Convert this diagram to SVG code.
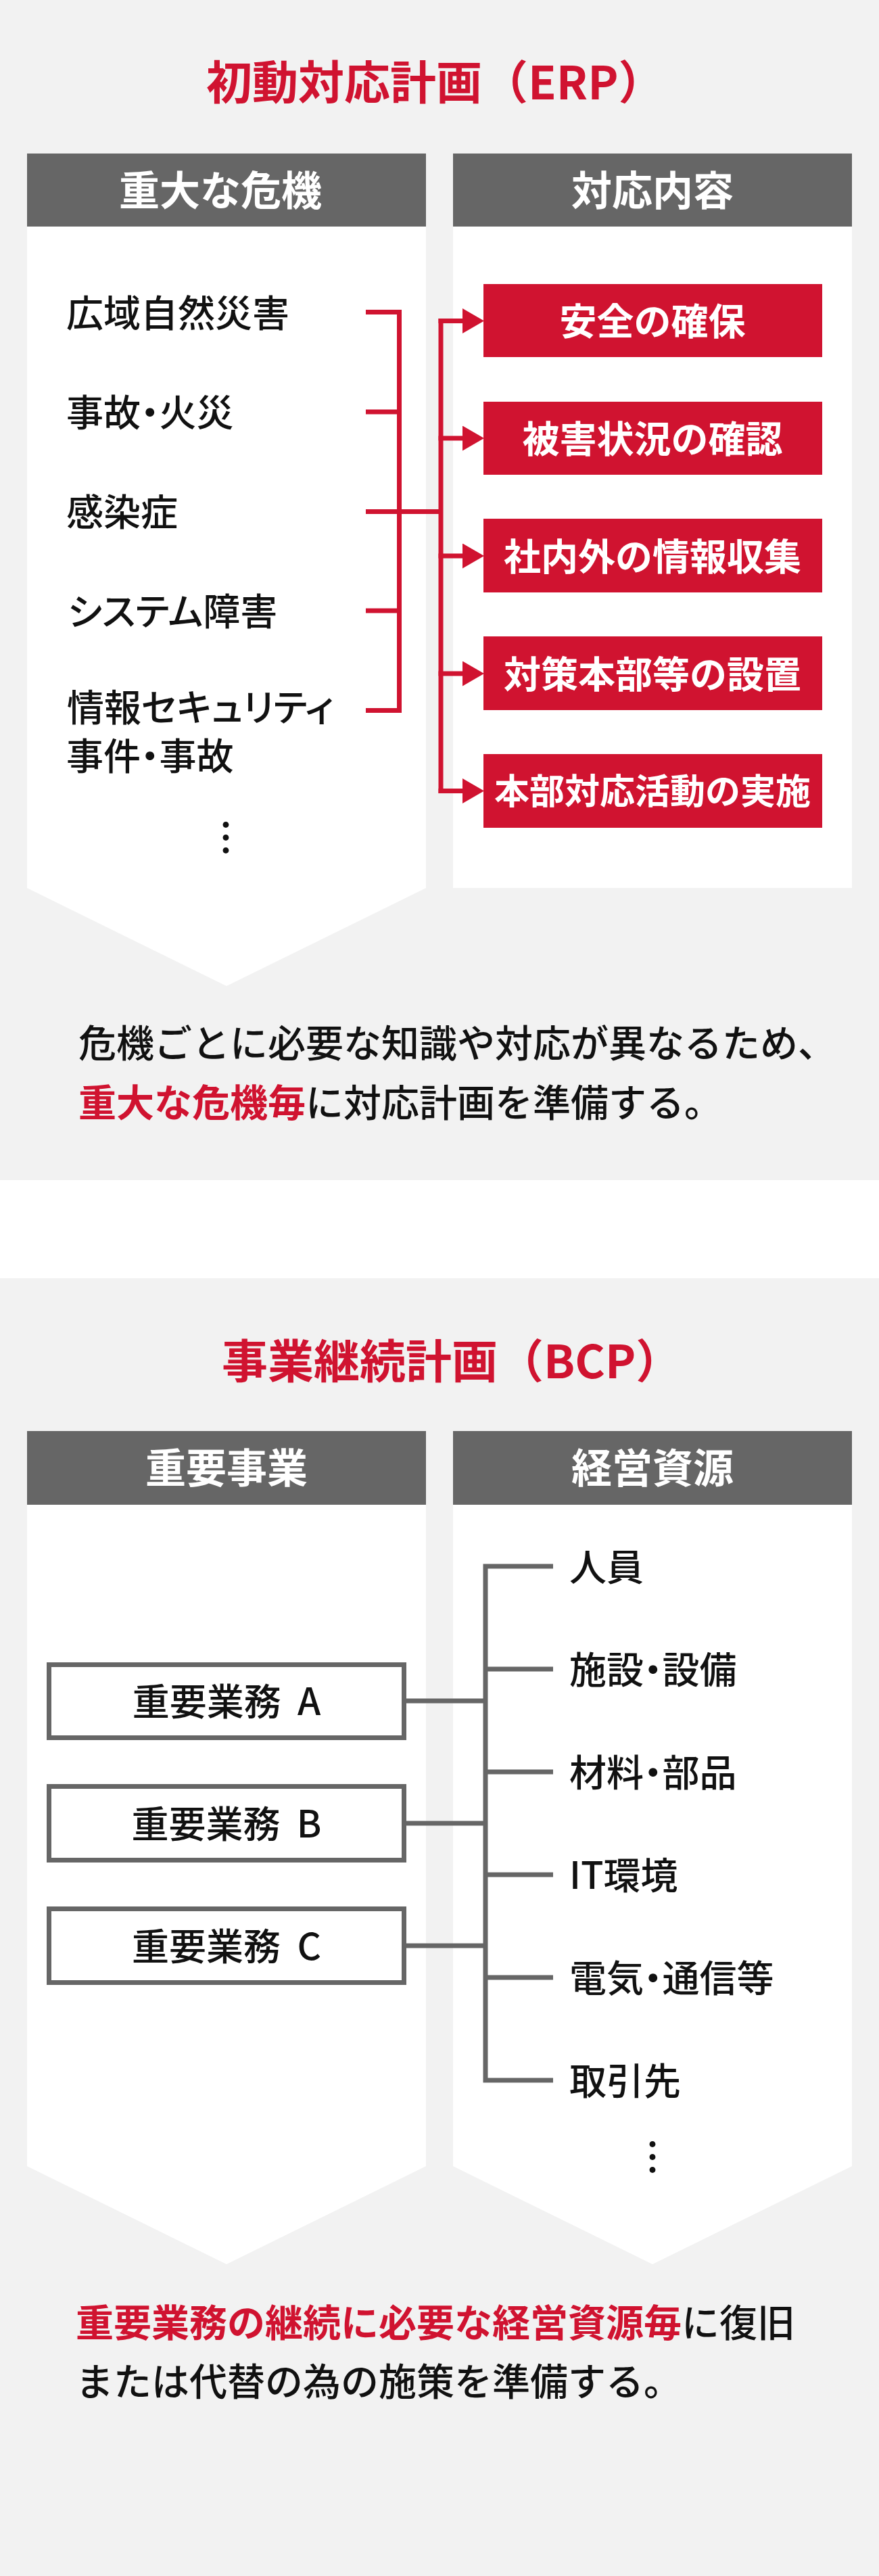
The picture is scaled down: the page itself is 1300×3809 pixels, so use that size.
<svg xmlns="http://www.w3.org/2000/svg" width="1300" height="3809" viewBox="0 0 1300 3809">
<defs>
<style>
.bg{fill:#f2f2f2}
.white{fill:#ffffff}
.ttl{font-family:"Noto Sans CJK JP","Noto Sans",sans-serif;font-weight:700;font-size:68px;fill:#d01330}
.hdr{fill:#666666}
.hdrt{font-family:"Noto Sans CJK JP",sans-serif;font-weight:700;font-size:60px;fill:#ffffff;text-anchor:middle}
.panel{fill:#ffffff}
.t{font-family:"Noto Sans CJK JP",sans-serif;font-weight:500;font-size:55px;fill:#111111;font-feature-settings:"palt" 1}
.cap{font-family:"Noto Sans CJK JP",sans-serif;font-weight:500;font-size:56px;fill:#111111}
.em{font-weight:700;fill:#d01330}
.rbox{fill:#d01330}
.rt{font-family:"Noto Sans CJK JP",sans-serif;font-weight:700;font-size:55px;fill:#ffffff;text-anchor:middle}
.rl{stroke:#d01330;stroke-width:7;fill:none;stroke-linejoin:miter}
.gl{stroke:#666666;stroke-width:7;fill:none;stroke-linejoin:miter}
.gbox{fill:#ffffff;stroke:#666666;stroke-width:7}
.bt{font-family:"Noto Sans CJK JP",sans-serif;font-weight:500;font-size:55px;fill:#111111;text-anchor:middle;word-spacing:12px}
.dots{font-family:"Noto Sans CJK JP",sans-serif;font-weight:700;font-size:55px;fill:#111111;text-anchor:middle}
</style>
<marker id="arr" markerUnits="userSpaceOnUse" viewBox="0 0 32 37" markerWidth="32" markerHeight="37" refX="0" refY="18.5" orient="auto">
<path d="M0,0 L32,18.5 L0,37 Z" fill="#d01330"/>
</marker>
</defs>

<rect class="bg" x="0" y="0" width="1300" height="3809"/>
<rect class="white" x="0" y="1745" width="1300" height="145"/>

<!-- ERP section -->
<text id="erp-title" class="ttl" x="305" y="147">初動対応計画（ERP）</text>

<g id="erp-left-col">
<path class="panel" d="M40,335 H630 V1313 L335,1458 L40,1313 Z"/>
<rect class="hdr" x="40" y="227" width="590" height="108"/>
<text class="hdrt" x="326" y="304">重大な危機</text>
</g>
<g id="erp-right-col">
<rect class="panel" x="670" y="335" width="590" height="978"/>
<rect class="hdr" x="670" y="227" width="590" height="108"/>
<text class="hdrt" x="965" y="304">対応内容</text>
</g>

<g id="crisis-1"><text class="t" x="98" y="483">広域自然災害</text></g>
<g id="crisis-2"><text class="t" x="98" y="630">事故・火災</text></g>
<g id="crisis-3"><text class="t" x="98" y="777">感染症</text></g>
<g id="crisis-4"><text class="t" x="100" y="924">システム障害</text></g>
<g id="crisis-5">
<text class="t" x="99" y="1066">情報セキュリティ</text>
<text class="t" x="98" y="1138">事件・事故</text>
</g>
<g id="crisis-more"><text class="dots" x="334" y="1259">︙</text></g>

<g id="resp-1"><rect class="rbox" x="715" y="420" width="501" height="108"/><text class="rt" x="965" y="495">安全の確保</text></g>
<g id="resp-2"><rect class="rbox" x="715" y="594" width="501" height="108"/><text class="rt" x="965" y="669">被害状況の確認</text></g>
<g id="resp-3"><rect class="rbox" x="715" y="767" width="501" height="109"/><text class="rt" x="965" y="843">社内外の情報収集</text></g>
<g id="resp-4"><rect class="rbox" x="715" y="941" width="501" height="109"/><text class="rt" x="965" y="1017">対策本部等の設置</text></g>
<g id="resp-5"><rect class="rbox" x="715" y="1115" width="501" height="109"/><text class="rt" x="965" y="1189" style="font-size:52px">本部対応活動の実施</text></g>

<g id="erp-connectors">
<path class="rl" d="M541,461.5 H590.5 V1050.5 H541"/>
<path class="rl" d="M541,609 H590.5"/>
<path class="rl" d="M541,903 H590.5"/>
<path class="rl" d="M541,756.5 H652"/>
<path class="rl" d="M652,471 V1173"/>
<line class="rl" x1="648.5" y1="474.5" x2="684" y2="474.5" marker-end="url(#arr)"/>
<line class="rl" x1="648.5" y1="648" x2="684" y2="648" marker-end="url(#arr)"/>
<line class="rl" x1="648.5" y1="822" x2="684" y2="822" marker-end="url(#arr)"/>
<line class="rl" x1="648.5" y1="996" x2="684" y2="996" marker-end="url(#arr)"/>
<line class="rl" x1="648.5" y1="1169.5" x2="684" y2="1169.5" marker-end="url(#arr)"/>
</g>

<g id="erp-caption">
<text class="cap" x="116" y="1563">危機ごとに必要な知識や対応が異なるため、</text>
<text class="cap" x="116" y="1651"><tspan class="em">重大な危機毎</tspan>に対応計画を準備する。</text>
</g>

<!-- BCP section -->
<text id="bcp-title" class="ttl" x="328" y="2038">事業継続計画（BCP）</text>

<g id="bcp-left-col">
<path class="panel" d="M40,2225 H630 V3203 L335,3348 L40,3203 Z"/>
<rect class="hdr" x="40" y="2116" width="590" height="109"/>
<text class="hdrt" x="335" y="2193">重要事業</text>
</g>
<g id="bcp-right-col">
<path class="panel" d="M670,2225 H1260 V3203 L965,3348 L670,3203 Z"/>
<rect class="hdr" x="670" y="2116" width="590" height="109"/>
<text class="hdrt" x="965" y="2193">経営資源</text>
</g>

<g id="biz-a"><rect class="gbox" x="72.5" y="2461.5" width="525" height="108"/><text class="bt" x="335" y="2536">重要業務 A</text></g>
<g id="biz-b"><rect class="gbox" x="72.5" y="2641.5" width="525" height="109"/><text class="bt" x="335" y="2717">重要業務 B</text></g>
<g id="biz-c"><rect class="gbox" x="72.5" y="2822.5" width="525" height="109"/><text class="bt" x="335" y="2898">重要業務 C</text></g>

<g id="res-1"><text class="t" x="842" y="2337">人員</text></g>
<g id="res-2"><text class="t" x="842" y="2489">施設・設備</text></g>
<g id="res-3"><text class="t" x="842" y="2641">材料・部品</text></g>
<g id="res-4"><text class="t" x="842" y="2793">IT環境</text></g>
<g id="res-5"><text class="t" x="842" y="2945">電気・通信等</text></g>
<g id="res-6"><text class="t" x="842" y="3097">取引先</text></g>
<g id="res-more"><text class="dots" x="965" y="3210">︙</text></g>

<g id="bcp-connectors">
<path class="gl" d="M818,2316 H718 V3076 H818"/>
<path class="gl" d="M718,2468 H818"/>
<path class="gl" d="M718,2620 H818"/>
<path class="gl" d="M718,2772 H818"/>
<path class="gl" d="M718,2924 H818"/>
<path class="gl" d="M601,2515 H718"/>
<path class="gl" d="M601,2696 H718"/>
<path class="gl" d="M601,2877 H718"/>
</g>

<g id="bcp-caption">
<text class="cap" x="112" y="3455"><tspan class="em">重要業務の継続に必要な経営資源毎</tspan>に復旧</text>
<text class="cap" x="112" y="3542">または代替の為の施策を準備する。</text>
</g>
</svg>
